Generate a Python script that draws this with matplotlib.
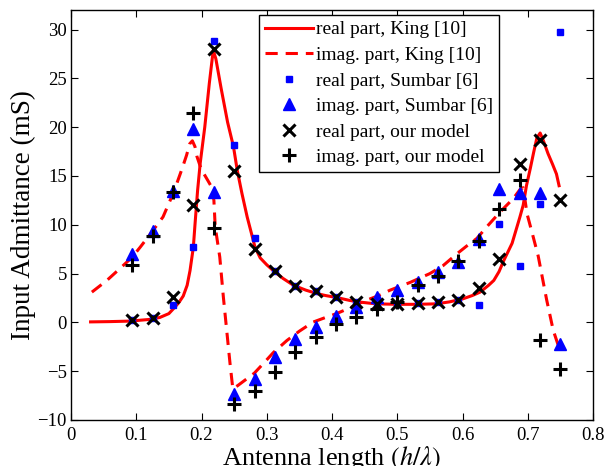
import matplotlib
matplotlib.use("Agg")
import matplotlib.pyplot as plt

plt.rcParams['font.family'] = ['Liberation Serif', 'DejaVu Serif']
plt.rcParams['mathtext.fontset'] = 'stix'

# Antenna length h/lambda for model points
x_pts = [3/32, 4/32, 5/32, 6/32, 7/32, 8/32, 9/32, 10/32, 11/32, 12/32, 13/32,
         14/32, 15/32, 16/32, 17/32, 18/32, 19/32, 20/32, 21/32, 22/32, 23/32, 24/32]

our_real = [0.2, 0.5, 2.6, 12.0, 28.0, 15.5, 7.55, 5.3, 3.7, 3.2, 2.6,
            2.1, 1.85, 1.9, 2.0, 2.1, 2.25, 3.5, 6.5, 16.2, 18.7, 12.5]
our_imag = [5.85, 8.8, 13.4, 21.4, 9.7, -8.4, -7.0, -5.1, -3.05, -1.45, -0.2,
            0.55, 1.4, 2.1, 3.85, 4.8, 6.25, 8.35, 11.6, 14.6, -1.8, -4.75]
sumbar_real = [0.2, 0.5, 1.75, 7.7, 28.85, 18.15, 8.6, 5.3, 3.7, 3.2, 2.6,
               2.1, 1.85, 1.9, 2.0, 2.1, 2.25, 1.75, 10.05, 5.75, 12.1, 29.7]
sumbar_imag = [7.0, 9.4, 13.5, 19.8, 13.4, -7.3, -5.8, -3.55, -1.7, -0.5, 0.7,
               1.6, 2.6, 3.3, 4.1, 5.2, 6.2, 8.5, 13.7, 13.3, 13.3, -2.25]

king_real_x = [0.03, 0.06, 0.09, 0.12, 0.136, 0.15, 0.157, 0.165, 0.172, 0.178, 0.1824,
               0.1875, 0.190, 0.194, 0.198, 0.205, 0.212, 0.218, 0.222, 0.23, 0.24,
               0.249, 0.255, 0.262, 0.27, 0.277, 0.282, 0.29, 0.30, 0.31, 0.325, 0.341,
               0.36, 0.377, 0.39, 0.407, 0.427, 0.44, 0.46, 0.48, 0.50, 0.53, 0.56,
               0.58, 0.60, 0.615, 0.627, 0.64, 0.648, 0.656, 0.663, 0.676, 0.688,
               0.693, 0.698, 0.704, 0.709, 0.714, 0.719, 0.724, 0.731, 0.738, 0.744, 0.748]
king_real_y = [0.05, 0.08, 0.13, 0.3, 0.5, 0.9, 1.4, 2.0, 2.7, 3.8, 5.3,
               7.7, 10.0, 13.5, 16.3, 20.0, 24.5, 27.9, 27.0, 24.0, 20.5,
               18.0, 15.5, 13.2, 10.8, 9.0, 7.7, 6.6, 5.9, 5.3, 4.5, 3.8,
               3.3, 2.95, 2.75, 2.55, 2.25, 2.1, 1.95, 1.88, 1.85, 1.85, 1.9,
               2.1, 2.4, 2.75, 3.1, 3.8, 4.3, 5.2, 6.3, 8.1, 10.8,
               12.0, 14.0, 15.8, 17.4, 18.9, 19.4, 18.6, 17.3, 16.2, 15.2, 14.0]

king_imag_x = [0.032, 0.055, 0.078, 0.094, 0.106, 0.121, 0.141, 0.152, 0.162, 0.170,
               0.177, 0.182, 0.186, 0.190, 0.193, 0.198, 0.203, 0.21, 0.216, 0.219,
               0.221, 0.228, 0.2335, 0.2386, 0.2437, 0.248, 0.255, 0.267, 0.281, 0.295,
               0.31, 0.331, 0.35, 0.371, 0.39, 0.407, 0.428, 0.45, 0.47, 0.489, 0.52,
               0.55, 0.57, 0.591, 0.606, 0.622, 0.64, 0.6575, 0.678, 0.688, 0.693,
               0.699, 0.707, 0.716, 0.729, 0.739, 0.75]
king_imag_y = [3.1, 4.3, 5.7, 6.7, 7.7, 9.0, 10.8, 12.5, 14.2, 15.7,
               17.1, 18.3, 18.6, 18.0, 17.0, 16.0, 15.3, 14.5, 13.8, 12.5,
               9.8, 6.7, 2.6, -0.8, -4.2, -6.8, -6.5, -5.9, -5.2, -4.2,
               -3.1, -1.85, -0.9, 0.03, 0.5, 0.9, 1.5, 2.2, 2.7, 3.3, 4.1,
               5.0, 5.8, 7.0, 7.8, 8.6, 10.0, 11.3, 12.7, 13.6, 13.8,
               11.1, 9.1, 6.8, 2.3, -0.8, -3.0]

x_ticks = [0, 0.1, 0.2, 0.3, 0.4, 0.5, 0.6, 0.7, 0.8]
x_ticklabels = ['0', '0.1', '0.2', '0.3', '0.4', '0.5', '0.6', '0.7', '0.8']
y_ticks = [-10, -5, 0, 5, 10, 15, 20, 25, 30]

fig = plt.figure(figsize=(6.06, 4.66), dpi=100)
ax = fig.add_axes([71/606, 46/466, 522/606, 410/466])

red = '#ff0000'
blue = '#0000ff'
ax.plot(king_real_x, king_real_y, color=red, lw=2.2, label='real part, King [10]')
ax.plot(king_imag_x, king_imag_y, color=red, lw=2.2, linestyle=(0, (4, 2.6)),
        label='imag. part, King [10]')
ax.plot(x_pts, sumbar_real, linestyle='none', marker='s', ms=5, color=blue,
        mec=blue, label='real part, Sumbar [6]')
ax.plot(x_pts, sumbar_imag, linestyle='none', marker='^', ms=8.5, color=blue,
        mec=blue, label='imag. part, Sumbar [6]')
ax.plot(x_pts, our_real, linestyle='none', marker='x', ms=8.5, mew=2.2, color='black',
        label='real part, our model')
ax.plot(x_pts, our_imag, linestyle='none', marker='+', ms=10.5, mew=2.2, color='black',
        label='imag. part, our model')

ax.set_xlim(0, 0.8)
ax.set_ylim(-10, 32)
ax.set_xticks(x_ticks)
ax.set_xticklabels(x_ticklabels)
ax.set_yticks(y_ticks)
ax.tick_params(direction='in', top=True, right=True, length=5, width=0.8,
               labelsize=13.5)
ax.tick_params(axis='x', pad=5)
ax.tick_params(axis='y', pad=3)
for s in ax.spines.values():
    s.set_linewidth(1.0)

ax.set_xlabel(r'Antenna length $(h/\lambda)$', fontsize=19, labelpad=0)
ax.set_ylabel('Input Admittance (mS)', fontsize=19.5, labelpad=1)

leg = ax.legend(loc='upper right', bbox_to_anchor=(0.820, 0.988), borderaxespad=0,
                fontsize=14, fancybox=False, framealpha=1, edgecolor='black',
                handlelength=2.5, handletextpad=0.15, labelspacing=0.41,
                borderpad=0.3, numpoints=1)
leg.get_frame().set_linewidth(1.0)

fig.savefig('out.png', dpi=100)
